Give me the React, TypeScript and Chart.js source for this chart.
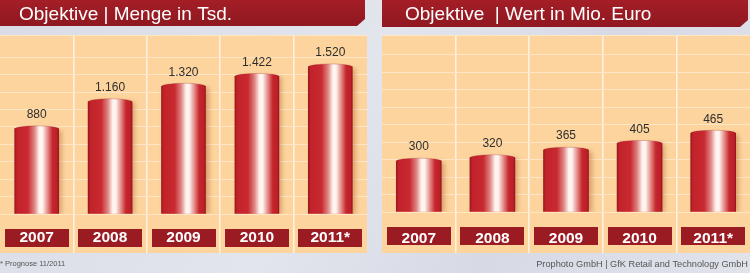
import React, { useEffect, useRef } from 'react';
import { Chart, registerables } from 'chart.js';

Chart.register(...registerables);

// ---- data ----
const years = ['2007', '2008', '2009', '2010', '2011*'];
const mengeValues = [880, 1160, 1320, 1422, 1520];
const wertValues = [300, 320, 365, 405, 465];
const titleMenge = 'Objektive | Menge in Tsd.';
const titleWert = 'Objektive  | Wert in Mio. Euro';
const noteLeft = '* Prognose 11/2011';
const noteRight = 'Prophoto GmbH | GfK Retail and Technology GmbH';

const FONT = '"Liberation Sans", Arial, Helvetica, sans-serif';
const ORANGE = '#fdd49d';
const DARK_RED = '#9b1b23';

const fmt = (v: number) => String(v).replace(/\B(?=(\d{3})+(?!\d))/g, '.');

function barGradient(ctx: CanvasRenderingContext2D, x0: number, x1: number) {
  const g = ctx.createLinearGradient(x0, 0, x1, 0);
  g.addColorStop(0, '#9a1820');
  g.addColorStop(0.05, '#c2222a');
  g.addColorStop(0.3, '#c92a31');
  g.addColorStop(0.45, '#df8784');
  g.addColorStop(0.56, '#fff4f0');
  g.addColorStop(0.63, '#fff4f0');
  g.addColorStop(0.75, '#e38a86');
  g.addColorStop(0.86, '#c6252d');
  g.addColorStop(0.96, '#bd2028');
  g.addColorStop(1, '#98171f');
  return g;
}

type PanelCfg = {
  title: string;
  values: number[];
  yMax: number;
  yStep: number;
  axisHeight: number;
  tickPad: number;
  barWidth: number;
  titleBarRight: number;
  titleBarBottom: number;
  titleX: number;
  note: string;
  noteAlign: 'left' | 'right';
  noteX: number;
};

function Panel({ cfg, left, width }: { cfg: PanelCfg; left: number; width: number }) {
  const ref = useRef<HTMLCanvasElement>(null);

  useEffect(() => {
    const canvas = ref.current!;
    const bw = cfg.barWidth;

    const panelPlugin = {
      id: 'panelDeco',
      beforeDraw(chart: any) {
        const ctx: CanvasRenderingContext2D = chart.ctx;
        const W = chart.width;
        ctx.save();
        // orange plot panel
        ctx.fillStyle = ORANGE;
        ctx.fillRect(0, 35, W, 218);
        // title bar
        const r = cfg.titleBarRight;
        const b = cfg.titleBarBottom;
        const tg = ctx.createLinearGradient(0, 0, 0, b);
        tg.addColorStop(0, '#a41e27');
        tg.addColorStop(1, '#8f1820');
        ctx.fillStyle = tg;
        ctx.beginPath();
        ctx.moveTo(0, 0);
        ctx.lineTo(r, 0);
        ctx.lineTo(r, b - 7);
        ctx.lineTo(r - 8, b);
        ctx.lineTo(0, b);
        ctx.closePath();
        ctx.fill();
        ctx.fillStyle = '#ffffff';
        ctx.font = `19px ${FONT}`;
        ctx.textBaseline = 'alphabetic';
        ctx.textAlign = 'left';
        ctx.fillText(cfg.title, cfg.titleX, 19.5);
        // category boxes
        const xs = chart.scales.x;
        const area = chart.chartArea;
        ctx.fillStyle = DARK_RED;
        years.forEach((_, i) => {
          const cx = xs.getPixelForValue(i);
          ctx.fillRect(Math.round(cx - 32), area.bottom + 15, 64, 18);
        });
        // footnote
        ctx.fillStyle = '#555555';
        ctx.textBaseline = 'middle';
        if (cfg.noteAlign === 'left') {
          ctx.font = `7.5px ${FONT}`;
          ctx.textAlign = 'left';
        } else {
          ctx.font = `9.2px ${FONT}`;
          ctx.textAlign = 'right';
        }
        ctx.fillText(cfg.note, cfg.noteX, 264);
        ctx.restore();
      },
      beforeDatasetsDraw(chart: any) {
        const ctx: CanvasRenderingContext2D = chart.ctx;
        ctx.save();
        ctx.shadowColor = 'rgba(160, 70, 20, 0.4)';
        ctx.shadowBlur = 5;
        ctx.shadowOffsetX = 3;
        ctx.shadowOffsetY = 1;
      },
      afterDatasetsDraw(chart: any) {
        const ctx: CanvasRenderingContext2D = chart.ctx;
        ctx.restore();
        ctx.save();
        const meta = chart.getDatasetMeta(0);
        meta.data.forEach((el: any, i: number) => {
          const { x, y, width: w } = el.getProps(['x', 'y', 'width'], true);
          // elliptical top cap of the cylinder
          ctx.fillStyle = barGradient(ctx, x - w / 2, x + w / 2);
          ctx.beginPath();
          ctx.ellipse(x, y, w / 2, 3, 0, 0, Math.PI * 2);
          ctx.fill();
          ctx.strokeStyle = 'rgba(140, 20, 28, 0.35)';
          ctx.lineWidth = 0.7;
          ctx.beginPath();
          ctx.ellipse(x, y, w / 2 - 0.3, 3, 0, Math.PI, Math.PI * 2);
          ctx.stroke();
          // value label
          ctx.fillStyle = '#2e2e2e';
          ctx.font = `12px ${FONT}`;
          ctx.textAlign = 'center';
          ctx.textBaseline = 'middle';
          ctx.fillText(fmt(cfg.values[i]), x, y - 14);
        });
        ctx.restore();
      },
    };

    const chart = new Chart(canvas, {
      type: 'bar',
      data: {
        labels: years,
        datasets: [
          {
            data: cfg.values,
            barThickness: bw,
            borderWidth: 0,
            backgroundColor: (c: any) => {
              const ch = c.chart;
              const xs = ch.scales && ch.scales.x;
              if (!xs || c.dataIndex == null) return '#c0222b';
              const cx = xs.getPixelForValue(c.dataIndex);
              if (!isFinite(cx)) return '#c0222b';
              return barGradient(ch.ctx, cx - bw / 2, cx + bw / 2);
            },
          } as any,
        ],
      },
      options: {
        animation: false,
        responsive: false,
        devicePixelRatio: 1,
        layout: { padding: { top: 35, bottom: 20, left: 0, right: 0 } },
        plugins: {
          legend: { display: false },
          title: { display: false },
          tooltip: { enabled: false },
        },
        scales: {
          x: {
            offset: true,
            border: { display: false },
            grid: {
              offset: true,
              drawTicks: true,
              tickLength: cfg.axisHeight,
              lineWidth: 1.6,
              color: (c: any) =>
                c.type !== 'tick' || c.index === 0 ? 'rgba(0,0,0,0)' : '#fff2e0',
            },
            ticks: {
              color: '#ffffff',
              font: { family: FONT, size: 15.5, weight: 'bold' },
              padding: cfg.tickPad,
              autoSkip: false,
              maxRotation: 0,
            },
            afterFit: (s: any) => {
              s.height = cfg.axisHeight;
            },
          },
          y: {
            min: 0,
            max: cfg.yMax,
            border: { display: false },
            grid: { drawTicks: false, color: '#fee6c6', lineWidth: 1 },
            ticks: { display: false, stepSize: cfg.yStep },
            afterFit: (s: any) => {
              s.width = 0;
            },
          },
        },
      } as any,
      plugins: [panelPlugin],
    });
    return () => chart.destroy();
  }, []);

  return (
    <canvas
      ref={ref}
      width={width}
      height={273}
      style={{ position: 'absolute', left, top: 0, width, height: 273, display: 'block' }}
    />
  );
}

const leftCfg: PanelCfg = {
  title: titleMenge,
  values: mengeValues,
  yMax: 1850,
  yStep: 180,
  axisHeight: 39,
  tickPad: -25,
  barWidth: 44,
  titleBarRight: 365,
  titleBarBottom: 26,
  titleX: 19,
  note: noteLeft,
  noteAlign: 'left',
  noteX: 0,
};

const rightCfg: PanelCfg = {
  title: titleWert,
  values: wertValues,
  yMax: 1045,
  yStep: 103,
  axisHeight: 41,
  tickPad: -24,
  barWidth: 45,
  titleBarRight: 366,
  titleBarBottom: 27,
  titleX: 23,
  note: noteRight,
  noteAlign: 'right',
  noteX: 366,
};

export default function App() {
  return (
    <div
      style={{
        position: 'absolute',
        left: 0,
        top: 0,
        width: 750,
        height: 273,
        overflow: 'hidden',
        background: 'linear-gradient(120deg, #d9dce6 0%, #e3e5ed 45%, #d7dae5 70%, #e1e3eb 100%)',
      }}
    >
      <Panel cfg={leftCfg} left={0} width={367} />
      <Panel cfg={rightCfg} left={382} width={368} />
    </div>
  );
}
